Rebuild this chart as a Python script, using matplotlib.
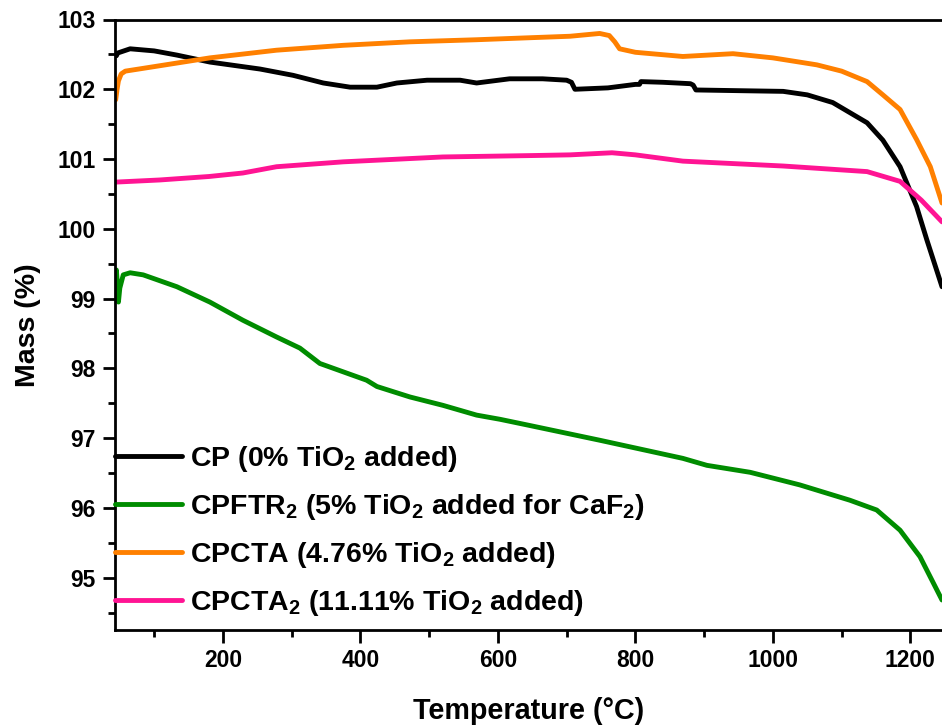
import matplotlib
matplotlib.use("Agg")
import matplotlib.pyplot as plt
from matplotlib.ticker import MultipleLocator

plt.rcParams['font.family'] = ['Liberation Sans', 'DejaVu Sans']
plt.rcParams['font.weight'] = 'bold'
plt.rcParams['mathtext.fontset'] = 'custom'
plt.rcParams['mathtext.rm'] = 'Liberation Sans:bold'
plt.rcParams['mathtext.bf'] = 'Liberation Sans:bold'
plt.rcParams['mathtext.default'] = 'rm'

# ---- data ----
cp_T = [45, 47, 65, 100, 133, 181, 254, 302, 346, 385, 424, 453, 497, 545, 569, 617, 665, 700,
        707, 712, 760, 800, 806, 808, 840, 880, 884, 888, 950, 1015, 1050, 1087, 1137, 1160,
        1185, 1209, 1224, 1246]
cp_M = [102.48, 102.52, 102.58, 102.55, 102.49, 102.39, 102.29, 102.20, 102.09, 102.03, 102.03,
        102.09, 102.13, 102.13, 102.09, 102.15, 102.15, 102.13, 102.10, 102.00, 102.02, 102.07,
        102.07, 102.11, 102.10, 102.08, 102.06, 101.99, 101.98, 101.97, 101.92, 101.81, 101.52,
        101.27, 100.89, 100.32, 99.84, 99.17]

cpftr2_T = [43.5, 45, 46.5, 48, 50, 55, 65, 84, 133, 181, 229, 278, 312, 341, 375, 409, 424, 472,
            520, 569, 603, 642, 748, 869, 904, 967, 1039, 1112, 1151, 1185, 1214, 1246]
cpftr2_M = [99.30, 99.41, 99.20, 98.95, 99.15, 99.34, 99.37, 99.34, 99.17, 98.95, 98.69, 98.45,
            98.29, 98.07, 97.95, 97.83, 97.74, 97.59, 97.47, 97.33, 97.27, 97.19, 96.97, 96.71,
            96.61, 96.51, 96.33, 96.11, 95.97, 95.68, 95.30, 94.68]

cpcta_T = [44, 46, 48, 52, 58, 84, 181, 278, 375, 472, 569, 650, 705, 748, 762, 770, 777, 800,
           869, 942, 1000, 1064, 1100, 1137, 1160, 1185, 1209, 1229, 1246]
cpcta_M = [101.85, 102.00, 102.12, 102.22, 102.26, 102.30, 102.45, 102.56, 102.63, 102.68, 102.71,
           102.74, 102.76, 102.80, 102.77, 102.68, 102.58, 102.53, 102.47, 102.51, 102.45, 102.35,
           102.26, 102.11, 101.92, 101.71, 101.28, 100.89, 100.37]

cpcta2_T = [45, 108, 180, 229, 278, 375, 520, 650, 705, 766, 800, 869, 1015, 1137, 1185, 1216, 1246]
cpcta2_M = [100.67, 100.70, 100.75, 100.80, 100.89, 100.96, 101.03, 101.05, 101.06, 101.09, 101.06,
            100.97, 100.90, 100.82, 100.68, 100.41, 100.10]

labels = ['CP (0% TiO$_2$ added)',
          'CPFTR$_2$ (5% TiO$_2$ added for CaF$_2$)',
          'CPCTA (4.76% TiO$_2$ added)',
          'CPCTA$_2$ (11.11% TiO$_2$ added)']
colors = ['#000000', '#008C00', '#FF8000', '#FF1493']

xlabel = 'Temperature (°C)'
ylabel = 'Mass (%)'

# ---- figure ----
fig = plt.figure(figsize=(9.42, 7.28), dpi=100)
ax = fig.add_axes([115/942, 98/728, 827/942, 610.5/728])

series = [(cp_T, cp_M), (cpftr2_T, cpftr2_M), (cpcta_T, cpcta_M), (cpcta2_T, cpcta2_M)]
for (t, m), lab, c in zip(series, labels, colors):
    ax.plot(t, m, color=c, lw=3.5, label=lab, solid_joinstyle='round', solid_capstyle='round')

ax.set_xlim(43, 1246)
ax.set_ylim(94.25, 103)
ax.xaxis.set_major_locator(MultipleLocator(200))
ax.xaxis.set_minor_locator(MultipleLocator(100))
ax.yaxis.set_major_locator(MultipleLocator(1))
ax.yaxis.set_minor_locator(MultipleLocator(0.5))

ax.spines['right'].set_visible(False)
for s in ['left', 'bottom', 'top']:
    ax.spines[s].set_linewidth(2.0)

ax.tick_params(which='major', direction='out', length=9, width=2, labelsize=16.5, pad=5)
ax.tick_params(which='minor', direction='out', length=5, width=2)
ax.tick_params(top=False, right=False, which='both')
for lbl in ax.get_xticklabels() + ax.get_yticklabels():
    lbl.set_fontweight('bold')

ax.set_xlabel(xlabel, fontsize=20.7, fontweight='bold', labelpad=18)
ax.set_ylabel(ylabel, fontsize=20.5, fontweight='bold', labelpad=12)

leg = ax.legend(loc='center left', bbox_to_anchor=(0, (630-531)/610.5), frameon=False,
                fontsize=20.5, borderaxespad=0, borderpad=0, handlelength=2.35,
                handletextpad=0.3, labelspacing=0.63)
for line in leg.get_lines():
    line.set_linewidth(3.5)

fig.savefig('out.png', dpi=100)
